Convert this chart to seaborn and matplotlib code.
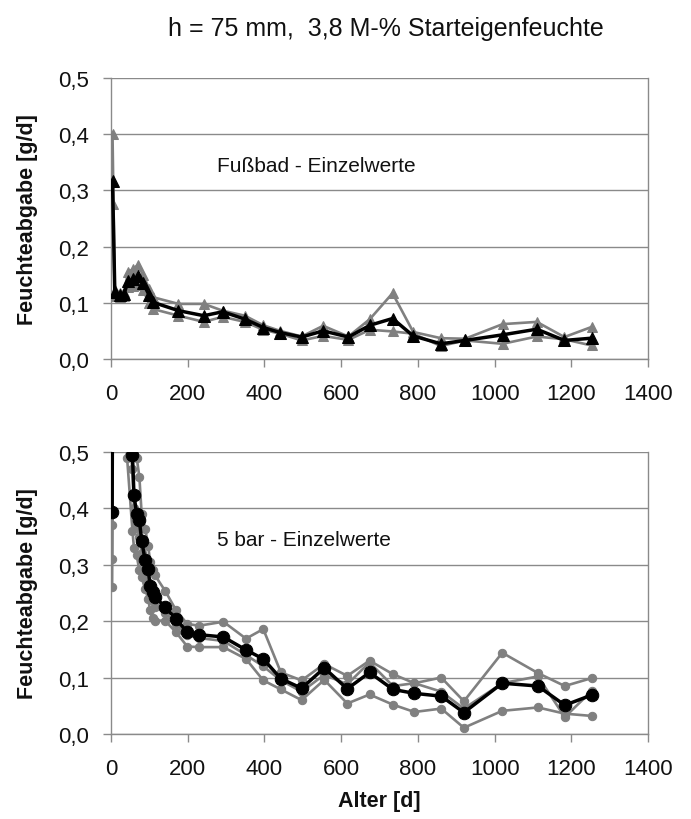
import matplotlib
matplotlib.use("Agg")
import matplotlib.pyplot as plt
import seaborn as sns
import pandas as pd

# ---------------- data ----------------
title_text = "h = 75 mm,  3,8 M-% Starteigenfeuchte"
ylabel_text = "Feuchteabgabe [g/d]"
xlabel_text = "Alter [d]"
top_label = "Fußbad - Einzelwerte"
bottom_label = "5 bar - Einzelwerte"
yticks = [0.0, 0.1, 0.2, 0.3, 0.4, 0.5]
ytick_labels = ["0,0", "0,1", "0,2", "0,3", "0,4", "0,5"]
xticks = [0, 200, 400, 600, 800, 1000, 1200, 1400]

# Fußbad (top)
fb_x = [4, 10, 23, 34, 45, 58, 71, 83, 100, 109, 176, 242, 291, 349, 397, 441,
        497, 553, 619, 675, 734, 788, 860, 923, 1021, 1110, 1182, 1253]
fb_mean = [0.317, 0.119, 0.114, 0.116, 0.139, 0.142, 0.148, 0.136, 0.113, 0.101,
           0.086, 0.077, 0.084, 0.071, 0.056, 0.047, 0.039, 0.050, 0.039, 0.060,
           0.072, 0.041, 0.027, 0.033, 0.043, 0.053, 0.033, 0.037]
fb_a = [0.400, 0.122, 0.118, 0.120, 0.155, 0.160, 0.168, 0.150, 0.125, 0.110,
        0.098, 0.098, 0.086, 0.077, 0.060, 0.050, 0.040, 0.059, 0.040, 0.071,
        0.117, 0.048, 0.037, 0.036, 0.062, 0.066, 0.039, 0.057]
fb_b = [0.275, 0.112, 0.110, 0.112, 0.128, 0.130, 0.132, 0.122, 0.100, 0.089,
        0.077, 0.066, 0.075, 0.066, 0.052, 0.045, 0.033, 0.041, 0.034, 0.052,
        0.049, 0.045, 0.023, 0.033, 0.027, 0.040, 0.035, 0.024]

# 5 bar (bottom)
pb_x = [3, 7, 14, 28, 42, 56, 60, 67, 74, 80, 89, 97, 102, 109, 115, 141, 170,
        199, 230, 293, 352, 397, 443, 497, 556, 616, 674, 735, 791, 861, 920,
        1020, 1113, 1183, 1253]
pb_mean = [0.393, 1.20, 1.00, 0.80, 0.65, 0.494, 0.423, 0.390, 0.379, 0.343,
           0.308, 0.293, 0.263, 0.251, 0.243, 0.225, 0.204, 0.180, 0.176, 0.172,
           0.149, 0.133, 0.098, 0.081, 0.117, 0.080, 0.109, 0.079, 0.072, 0.067,
           0.038, 0.090, 0.085, 0.051, 0.069]
pb_a = [0.370, 1.10, 0.95, 0.80, 0.62, 0.55, 0.52, 0.49, 0.456, 0.390, 0.364,
        0.334, 0.305, 0.290, 0.281, 0.254, 0.219, 0.195, 0.192, 0.199, 0.169,
        0.186, 0.109, 0.095, 0.124, 0.103, 0.130, 0.106, 0.090, 0.100, 0.058,
        0.144, 0.108, 0.085, 0.099]
pb_b = [0.310, 1.00, 0.85, 0.70, 0.55, 0.470, 0.400, 0.370, 0.350, 0.320,
        0.290, 0.270, 0.250, 0.235, 0.225, 0.215, 0.195, 0.175, 0.170, 0.165,
        0.140, 0.120, 0.095, 0.075, 0.105, 0.088, 0.127, 0.085, 0.090, 0.075,
        0.045, 0.090, 0.102, 0.030, 0.076]
pb_c = [0.260, 0.90, 0.70, 0.60, 0.49, 0.360, 0.330, 0.317, 0.290, 0.278,
        0.257, 0.240, 0.219, 0.206, 0.201, 0.201, 0.180, 0.155, 0.154, 0.154,
        0.133, 0.095, 0.079, 0.060, 0.096, 0.054, 0.070, 0.052, 0.039, 0.045,
        0.011, 0.041, 0.047, 0.036, 0.032]

# ---------------- style ----------------
sns.set_theme(style="white")
plt.rcParams["font.family"] = ["Liberation Sans", "DejaVu Sans"]

GRAY = "#808080"
AXC = "#8a8a8a"
TXT = "#111111"

fig = plt.figure(figsize=(6.91, 8.2), dpi=100)
ax1 = fig.add_axes([0.1606, 0.561, 0.7772, 0.3427])
ax2 = fig.add_axes([0.1606, 0.1037, 0.7772, 0.3439])


def draw(ax, x, series, mean, marker, gms, bms):
    for s in series:
        df = pd.DataFrame({"x": x, "y": s})
        sns.lineplot(data=df, x="x", y="y", ax=ax, color=GRAY, lw=1.9,
                     marker=marker, markersize=gms, markeredgecolor=GRAY,
                     sort=False, estimator=None, zorder=3)
    df = pd.DataFrame({"x": x, "y": mean})
    sns.lineplot(data=df, x="x", y="y", ax=ax, color="black", lw=2.5,
                 marker=marker, markersize=bms, markeredgecolor="black",
                 sort=False, estimator=None, zorder=4)


draw(ax1, fb_x, [fb_a, fb_b], fb_mean, "^", 6.5, 8)
draw(ax2, pb_x, [pb_a, pb_b, pb_c], pb_mean, "o", 6, 9)

for ax, lab in ((ax1, top_label), (ax2, bottom_label)):
    ax.set_xlim(0, 1400)
    ax.set_ylim(0, 0.5)
    ax.set_yticks(yticks)
    ax.set_yticklabels(ytick_labels)
    ax.set_xticks(xticks)
    ax.set_xticklabels([str(t) for t in xticks])
    ax.grid(axis="y", color=AXC, lw=1.0)
    ax.grid(axis="x", visible=False)
    ax.set_axisbelow(True)
    for side in ("left", "bottom", "right"):
        ax.spines[side].set_visible(True)
        ax.spines[side].set_color(AXC)
        ax.spines[side].set_linewidth(1.0)
    ax.spines["top"].set_visible(False)
    ax.tick_params(axis="both", which="major", direction="out", length=6,
                   width=1.0, color=AXC, labelsize=16, bottom=True, left=True,
                   labelcolor=TXT)
    ax.tick_params(axis="y", pad=10)
    ax.tick_params(axis="x", pad=11)
    ax.set_ylabel(ylabel_text, fontsize=15.5, fontweight="bold", color=TXT)
    ax.yaxis.set_label_coords(-0.136, 0.5)
    ax.set_xlabel("")
    ax.text(0.197, 0.69, lab, transform=ax.transAxes, fontsize=15,
            color=TXT, va="center", ha="left")

ax2.set_xlabel(xlabel_text, fontsize=15.5, fontweight="bold", color=TXT)
ax2.xaxis.set_label_coords(0.5, -0.20)

fig.text(0.559, 0.965, title_text, fontsize=18, ha="center", va="center",
         color=TXT)

fig.savefig("out.png", dpi=100)
